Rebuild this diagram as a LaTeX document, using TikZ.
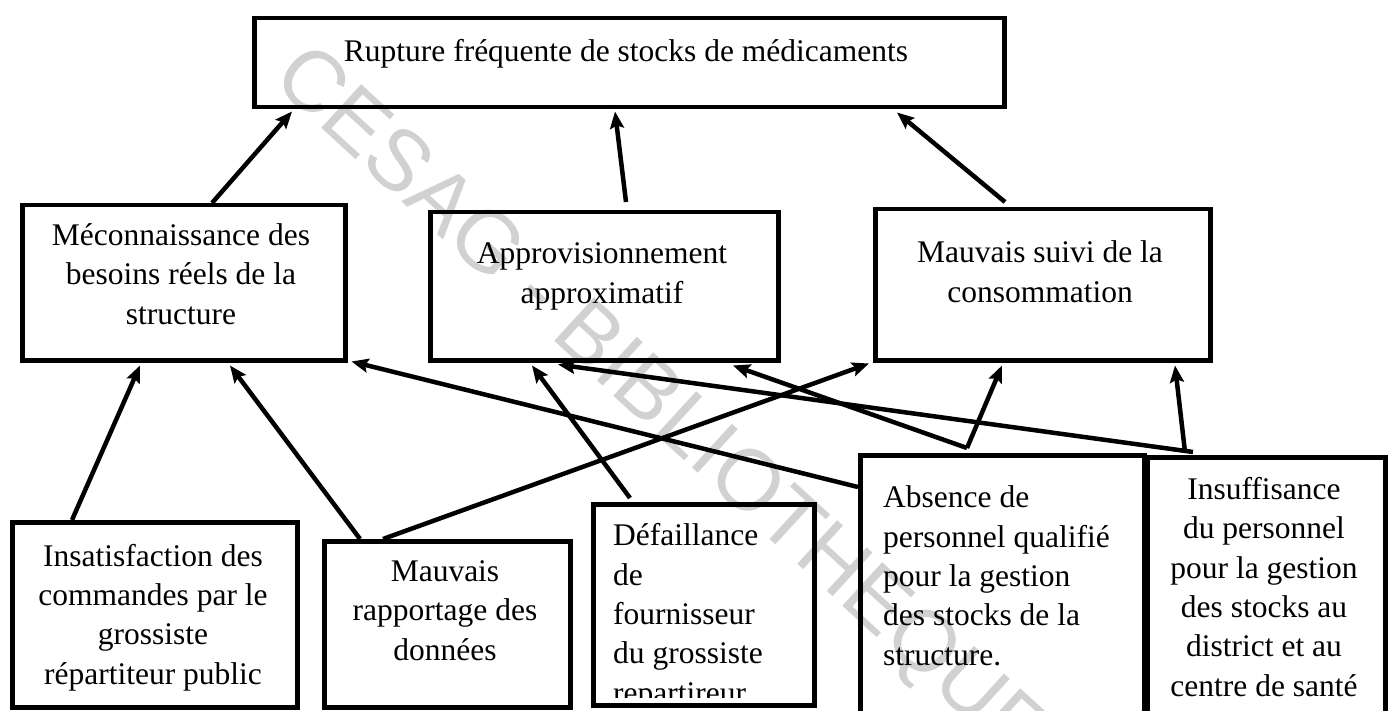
\documentclass[tikz,border=0pt]{standalone}
\usepackage{fontspec}
\setmainfont{Liberation Serif}
\newfontfamily\wmfont{Liberation Sans}
\usetikzlibrary{arrows.meta,calc}
\begin{document}
\begin{tikzpicture}[x=1pt,y=-1pt,
  box/.style={draw=black, line width=4.5pt, inner sep=0pt, anchor=north west},
  txt/.style={font=\fontsize{31.5}{39.3}\selectfont, inner sep=0pt, align=center, anchor=base},
  ltxt/.style={font=\fontsize{31.5}{39.3}\selectfont, inner sep=0pt, align=left, anchor=base west},
  arr/.style={line width=4.5pt, -{Stealth[length=17pt,width=14pt,inset=3pt]}}]
\useasboundingbox (0,0) rectangle (1389,711);
\clip (0,0) rectangle (1389,711);
% watermark
\node[font=\wmfont\fontsize{86}{86}\selectfont, text=black!18, rotate=-42.5, inner sep=0pt] (wm) at (659,408) {CESAG - BIBLIOTHEQUE};
% boxes
\node[box, minimum width=750pt, minimum height=89pt] (top) at (252,16) {};
\node[box, minimum width=323pt, minimum height=155pt] (meco) at (20,203) {};
\node[box, minimum width=348pt, minimum height=148pt] (appro) at (428,210) {};
\node[box, minimum width=335pt, minimum height=151pt] (suivi) at (873,207) {};
\node[box, minimum width=285pt, minimum height=185pt] (insat) at (10,520) {};
\node[box, minimum width=246pt, minimum height=166pt] (rapport) at (322,539) {};
\node[box, minimum width=221pt, minimum height=201pt] (defail) at (591,502) {};
\node[box, minimum width=284pt, minimum height=290pt] (absence) at (858,453) {};
\node[box, minimum width=238pt, minimum height=290pt] (insuff) at (1145,455) {};
% texts (anchor base = baseline of the last line)
\node[txt] (ttop) at (626,62) {Rupture fréquente de stocks de médicaments};
\node[txt] (tmeco) at (181,324) {Méconnaissance des\\besoins réels de la\\structure};
\node[txt] (tappro) at (602,303) {Approvisionnement\\approximatif};
\node[txt] (tsuivi) at (1040,302) {Mauvais suivi de la\\consommation};
\node[txt] (tinsat) at (153,684) {Insatisfaction des\\commandes par le\\grossiste\\répartiteur public};
\node[txt] (trapport) at (445,660) {Mauvais\\rapportage des\\données};
\begin{scope}
\clip ([xshift=2.25pt,yshift=-2.25pt]defail.north west) rectangle ([xshift=-2.25pt,yshift=10pt]defail.south east);
\node[ltxt] (tdefail) at (613,703) {Défaillance\\de\\fournisseur\\du grossiste\\repartireur};
\end{scope}
\node[ltxt] (tabsence) at (883,665) {Absence de\\personnel qualifié\\pour la gestion\\des stocks de la\\structure.};
\node[txt] (tinsuff) at (1264,696) {Insuffisance\\du personnel\\pour la gestion\\des stocks au\\district et au\\centre de santé};
% connectors
\draw[arr] ([xshift=192pt]meco.north west) -- ([xshift=40pt,yshift=-2pt]top.south west);
\draw[arr] ([xshift=198pt,yshift=8pt]appro.north west) -- ([xshift=363pt,yshift=-2pt]top.south west);
\draw[arr] ([xshift=132pt,yshift=5pt]suivi.north west) -- ([xshift=645pt,yshift=-3pt]top.south west);
\draw[arr] ([xshift=62pt]insat.north west) -- ([xshift=120pt,yshift=-3pt]meco.south west);
\draw[arr] ([xshift=38pt]rapport.north west) -- ([xshift=210pt,yshift=-3pt]meco.south west);
\draw[arr] ([xshift=61pt]rapport.north west) -- ([xshift=-4pt,yshift=-1pt]suivi.south west);
\draw[arr] ([xshift=39pt,yshift=4pt]defail.north west) -- ([xshift=104pt,yshift=-3pt]appro.south west);
\draw[arr] ([xshift=109pt,yshift=5pt]absence.north west) -- ([xshift=305pt,yshift=-3pt]appro.south west);
\draw[arr] ([xshift=109pt,yshift=5pt]absence.north west) -- ([xshift=129pt,yshift=-3pt]suivi.south west);
\draw[arr] ([xshift=48pt,yshift=3pt]insuff.north west) -- ([xshift=130pt,yshift=-2pt]appro.south west);
\draw[arr] ([xshift=40pt,yshift=3pt]insuff.north west) -- ([xshift=302pt,yshift=-3pt]suivi.south west);
\draw[arr] ([yshift=-34pt]absence.north west) -- ([xshift=4pt,yshift=1pt]meco.south east);
\end{tikzpicture}
\end{document}
